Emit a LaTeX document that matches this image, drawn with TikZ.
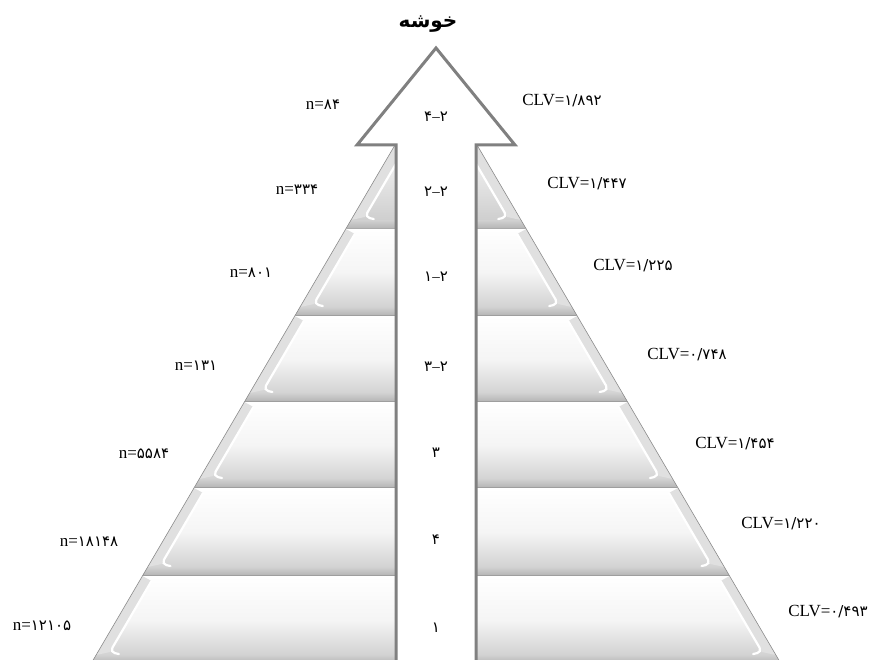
\documentclass[tikz,border=0pt]{standalone}
\usepackage{fontspec}
\setmainfont{Liberation Serif}
\newfontfamily\fa[Script=Arabic]{DejaVu Sans}
\TeXXeTstate=1
\newcommand\dsh{{\rmfamily\textendash}}
\begin{document}
\begin{tikzpicture}[x=1pt,y=-1pt]
\tikzset{
  bandfill/.style={top color=white, bottom color=black!21, middle color=black!4},
  bandbottom/.style={top color=black!18, bottom color=black!30},
  bandside/.style={fill=black!12},
  highlight/.style={draw=white, line width=2.2pt, line cap=round, rounded corners=5pt},
  bandedge/.style={draw=black!45, line width=0.6pt},
  sepline/.style={draw=black!38, line width=1.4pt},
  bigarrow/.style={draw=black!50, line width=3pt, fill=white, line join=miter},
  lbl/.style={font=\fontsize{17}{20}\selectfont, inner sep=0pt},
  mid/.style={font=\fontsize{15}{17}\selectfont\fa, inner sep=0pt}
}
\useasboundingbox (0,0) rectangle (877,660);
% pyramid bands
\foreach \t/\b in {75/229,229/316,316/402,402/488,488/576,576/664}{
  \pgfmathsetmacro\xlt{436-(\t-75)*0.586}
  \pgfmathsetmacro\xlb{436-(\b-75)*0.586}
  \pgfmathsetmacro\xrt{436+(\t-75)*0.586}
  \pgfmathsetmacro\xrb{436+(\b-75)*0.586}
  \pgfmathsetmacro\ym{\b-9}
  \pgfmathsetmacro\xlm{436-(\ym-75)*0.586}
  \pgfmathsetmacro\xrm{436+(\ym-75)*0.586}
  \pgfmathsetmacro\yh{\t+5}
  \pgfmathsetmacro\xlh{436-(\yh-75)*0.586+12}
  \pgfmathsetmacro\xrh{436+(\yh-75)*0.586-12}
  \pgfmathsetmacro\yk{\b-12}
  \pgfmathsetmacro\xlk{436-(\yk-75)*0.586+12}
  \pgfmathsetmacro\xrk{436+(\yk-75)*0.586-12}
  \shade[bandfill] (\xlt,\t) -- (\xrt,\t) -- (\xrb,\b) -- (\xlb,\b) -- cycle;
  \fill[bandside] (\xlt,\t) -- (\xlh,\yh) -- (\xlk,\yk) -- (\xlm,\ym) -- cycle;
  \fill[bandside] (\xrt,\t) -- (\xrh,\yh) -- (\xrk,\yk) -- (\xrm,\ym) -- cycle;
  \shade[bandbottom] (\xlm,\ym) -- (\xrm,\ym) -- (\xrb,\b) -- (\xlb,\b) -- cycle;
  \draw[highlight] (\xlh,\yh) -- (\xlk,\yk) -- ++(9,2);
  \draw[highlight] (\xrh,\yh) -- (\xrk,\yk) -- ++(-9,2);
  \draw[bandedge] (\xlt,\t) -- (\xlb,\b);
  \draw[bandedge] (\xrt,\t) -- (\xrb,\b);
  \draw[sepline] (\xlb,\b) -- (\xrb,\b);
}
% arrow
\draw[bigarrow] (436,48) -- (357,145) -- (396,145) -- (396,668) -- (476,668) -- (476,145) -- (515,145) -- cycle;
% title
\node[inner sep=0pt, font=\fontsize{20}{22}\selectfont\fa\bfseries] (title) at (428,24) {\beginR خوشه\endR};
% middle labels
\node[mid] (m1) at (436,117) {۴\dsh۲};
\node[mid] (m2) at (436,192) {۲\dsh۲};
\node[mid] (m3) at (436,277) {۱\dsh۲};
\node[mid] (m4) at (436,367) {۳\dsh۲};
\node[mid] (m5) at (436,453) {۳};
\node[mid] (m6) at (436,540) {۴};
\node[mid] (m7) at (436,628) {۱};
% left labels
\newcommand\fd[1]{{\fontsize{15}{17}\selectfont\fa #1}}
\node[lbl] (n1) at (323,105) {n=\fd{۸۴}};
\node[lbl] (n2) at (297,190) {n=\fd{۳۳۴}};
\node[lbl] (n3) at (251,273) {n=\fd{۸۰۱}};
\node[lbl] (n4) at (196,366) {n=\fd{۱۳۱}};
\node[lbl] (n5) at (144,454) {n=\fd{۵۵۸۴}};
\node[lbl] (n6) at (89,542) {n=\fd{۱۸۱۴۸}};
\node[lbl] (n7) at (42,626) {n=\fd{۱۲۱۰۵}};
% right labels
\node[lbl] (c1) at (562,101) {CLV=\fd{۱/۸۹۲}};
\node[lbl] (c2) at (587,184) {CLV=\fd{۱/۴۴۷}};
\node[lbl] (c3) at (633,266) {CLV=\fd{۱/۲۲۵}};
\node[lbl] (c4) at (687,355) {CLV=\fd{۰/۷۴۸}};
\node[lbl] (c5) at (735,444) {CLV=\fd{۱/۴۵۴}};
\node[lbl] (c6) at (781,524) {CLV=\fd{۱/۲۲۰}};
\node[lbl] (c7) at (828,612) {CLV=\fd{۰/۴۹۳}};
\end{tikzpicture}
\end{document}
